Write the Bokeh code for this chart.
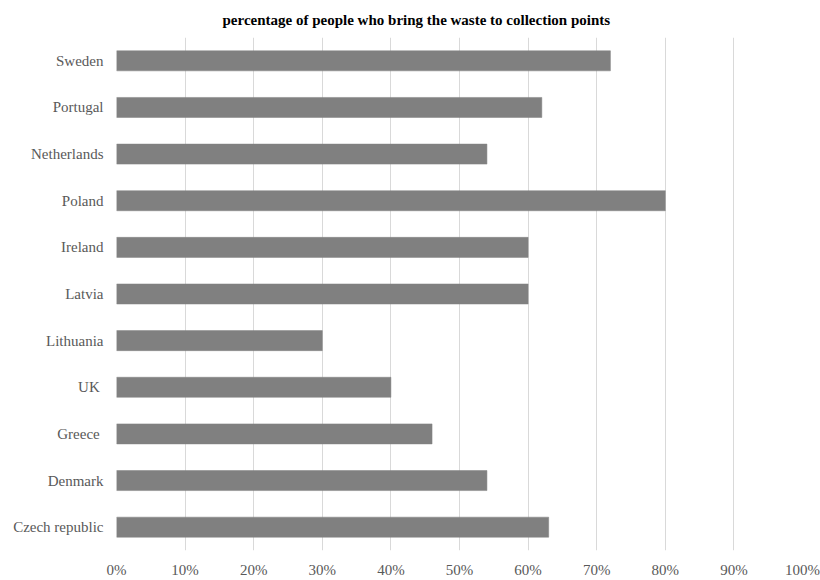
from bokeh.plotting import figure
from bokeh.models import NumeralTickFormatter, FixedTicker, Range1d
from bokeh.embed import file_html
from bokeh.resources import INLINE

# Countries listed bottom-to-top as they appear on the y axis
countries = ["Czech republic", "Denmark", "Greece ", "UK ", "Lithuania", "Latvia",
             "Ireland", "Poland", "Netherlands", "Portugal", "Sweden"]
share = [0.63, 0.54, 0.46, 0.40, 0.30, 0.60, 0.60, 0.80, 0.54, 0.62, 0.72]
x_ticks = [i / 10 for i in range(11)]

SERIF = "Liberation Serif"
LABEL_GREY = "#595959"

p = figure(
    width=820, height=580,
    y_range=countries,
    x_range=Range1d(0, 1),
    output_backend="svg",
    toolbar_location=None,
    min_border_left=116, min_border_right=18,
    min_border_top=10, min_border_bottom=20,
    title="percentage of people who bring the waste to collection points",
)

p.hbar(y=countries, right=share, left=0, height=0.43,
       fill_color="#808080", line_color="#808080", line_width=0.5)

p.title.align = "left"
p.title.offset = 106
p.title.text_font = SERIF
p.title.text_font_size = "15px"
p.title.text_font_style = "bold"
p.title.text_color = "#000000"
p.title.standoff = 19

p.outline_line_color = None
p.background_fill_color = "white"
p.border_fill_color = "white"

# x axis: percentages
p.xaxis.ticker = FixedTicker(ticks=x_ticks)
p.xaxis.formatter = NumeralTickFormatter(format="0%")
p.xaxis.axis_line_color = None
p.xaxis.major_tick_line_color = None
p.xaxis.major_tick_out = 0
p.xaxis.major_tick_in = 0
p.xaxis.minor_tick_line_color = None
p.xaxis.major_label_text_font = SERIF
p.xaxis.major_label_text_font_size = "15px"
p.xaxis.major_label_text_color = LABEL_GREY
p.xaxis.major_label_standoff = 11

# y axis: countries
p.yaxis.axis_line_color = None
p.yaxis.major_tick_line_color = None
p.yaxis.major_tick_out = 0
p.yaxis.major_tick_in = 0
p.yaxis.minor_tick_line_color = None
p.yaxis.major_label_text_font = SERIF
p.yaxis.major_label_text_font_size = "15px"
p.yaxis.major_label_text_color = LABEL_GREY
p.yaxis.major_label_standoff = 13

p.xgrid.grid_line_color = "#d9d9d9"
p.xgrid.grid_line_width = 1
p.ygrid.grid_line_color = None

open("out.html", "w").write(file_html(p, INLINE))
